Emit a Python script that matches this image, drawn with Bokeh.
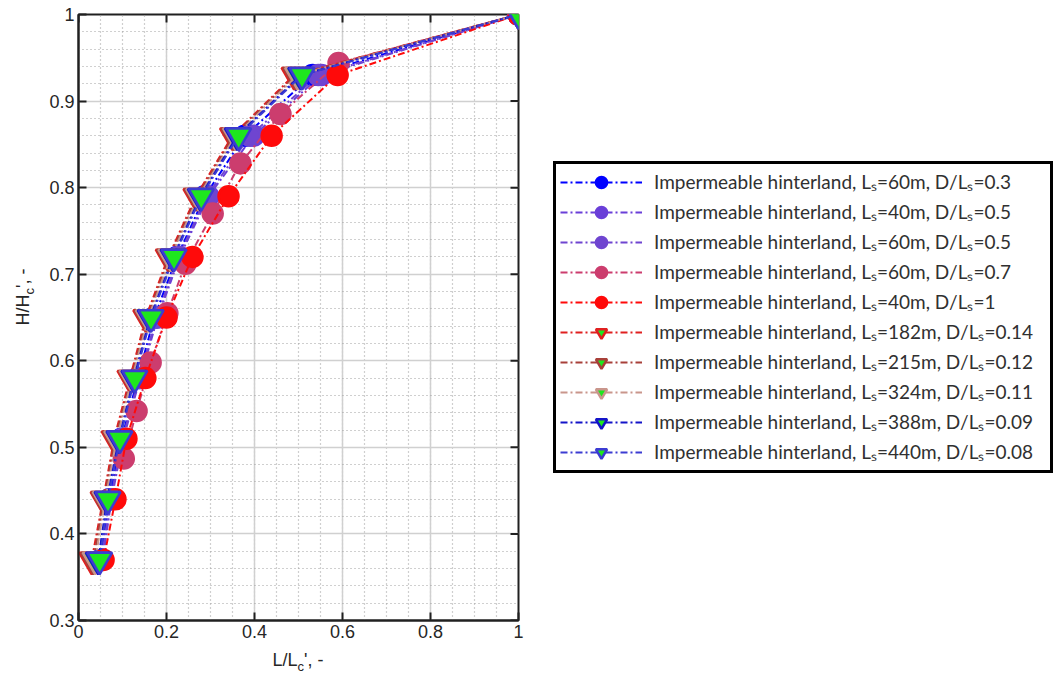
import numpy as np
from bokeh.plotting import figure
from bokeh.layouts import row, column
from bokeh.models import (Legend, LegendItem, FixedTicker,
                          CustomJSTickFormatter, Range1d, Div)
from bokeh.embed import file_html
from bokeh.resources import INLINE

# ---------------- data ----------------
y_a = [0.37, 0.44, 0.51, 0.58, 0.65, 0.72, 0.79, 0.86, 0.93, 1.0]
y_pink = [0.487, 0.542, 0.598, 0.655, 0.712, 0.770, 0.828, 0.885, 0.944, 1.0]

x_60_03 = [0.050, 0.070, 0.098, 0.135, 0.172, 0.224, 0.287, 0.378, 0.532, 1.0]
x_40_05 = [0.055, 0.075, 0.102, 0.140, 0.180, 0.230, 0.295, 0.398, 0.552, 1.0]
x_60_05 = [0.052, 0.073, 0.100, 0.138, 0.177, 0.227, 0.291, 0.390, 0.545, 1.0]
x_60_07 = [0.103, 0.132, 0.164, 0.202, 0.243, 0.305, 0.368, 0.459, 0.591, 1.0]
x_40_1 = [0.057, 0.084, 0.109, 0.152, 0.200, 0.259, 0.341, 0.439, 0.589, 1.0]

x_182 = [0.030, 0.056, 0.081, 0.117, 0.153, 0.204, 0.267, 0.350, 0.490, 1.0]
x_215 = [0.034, 0.058, 0.084, 0.120, 0.156, 0.207, 0.270, 0.353, 0.494, 1.0]
x_324 = [0.038, 0.061, 0.087, 0.122, 0.159, 0.210, 0.273, 0.357, 0.498, 1.0]
x_388 = [0.045, 0.065, 0.092, 0.126, 0.163, 0.215, 0.277, 0.361, 0.505, 1.0]
x_440 = [0.048, 0.067, 0.094, 0.128, 0.165, 0.217, 0.279, 0.364, 0.508, 1.0]

labels = [
    "Impermeable hinterland, Lₛ=60m, D/Lₛ=0.3",
    "Impermeable hinterland, Lₛ=40m, D/Lₛ=0.5",
    "Impermeable hinterland, Lₛ=60m, D/Lₛ=0.5",
    "Impermeable hinterland, Lₛ=60m, D/Lₛ=0.7",
    "Impermeable hinterland, Lₛ=40m, D/Lₛ=1",
    "Impermeable hinterland, Lₛ=182m, D/Lₛ=0.14",
    "Impermeable hinterland, Lₛ=215m, D/Lₛ=0.12",
    "Impermeable hinterland, Lₛ=324m, D/Lₛ=0.11",
    "Impermeable hinterland, Lₛ=388m, D/Lₛ=0.09",
    "Impermeable hinterland, Lₛ=440m, D/Lₛ=0.08",
]

x_ticks = [0, 0.2, 0.4, 0.6, 0.8, 1.0]
y_ticks = [0.3, 0.4, 0.5, 0.6, 0.7, 0.8, 0.9, 1.0]

GREEN = "#1ee61e"
series = [
    (x_60_03, y_a, "circle", "#0000ff", "#0000ff"),
    (x_40_05, y_a, "circle", "#6a3fd8", "#6a3fd8"),
    (x_60_05, y_a, "circle", "#6f45d0", "#6f45d0"),
    (x_60_07, y_pink, "circle", "#cc3d6e", "#cc3d6e"),
    (x_40_1, y_a, "circle", "#ff0a0a", "#ff0a0a"),
    (x_182, y_a, "inverted_triangle", "#e02020", GREEN),
    (x_215, y_a, "inverted_triangle", "#a8403a", GREEN),
    (x_324, y_a, "inverted_triangle", "#c9968c", GREEN),
    (x_388, y_a, "inverted_triangle", "#1414c8", GREEN),
    (x_440, y_a, "inverted_triangle", "#3c3cd2", GREEN),
]

# ---------------- figure ----------------
p = figure(frame_width=440, frame_height=606,
           x_range=Range1d(0, 1), y_range=Range1d(0.3, 1),
           output_backend="svg", toolbar_location=None,
           min_border_left=42, min_border_top=14, min_border_bottom=30,
           min_border_right=0, background_fill_color="white")

x_minor = list(np.round(np.arange(0, 1.0001, 0.05), 3))
y_minor = list(np.round(np.arange(0.3, 1.0001, 0.02), 3))
xt = FixedTicker(ticks=x_ticks, minor_ticks=x_minor)
yt = FixedTicker(ticks=y_ticks, minor_ticks=y_minor)
fmt = CustomJSTickFormatter(code="return tick.toFixed(1).replace(/\\.0$/, '');")

p.xaxis.ticker = xt
p.yaxis.ticker = yt
p.xaxis.formatter = fmt
p.yaxis.formatter = fmt
p.xgrid.ticker = xt
p.ygrid.ticker = yt
for g in (p.xgrid, p.ygrid):
    g.grid_line_color = "#d0d0d0"
    g.grid_line_width = 1.5
    g.minor_grid_line_color = "#a0a0a0"
    g.minor_grid_line_dash = "1 3"
    g.minor_grid_line_width = 1.2

for ax in (p.xaxis[0], p.yaxis[0]):
    ax.major_tick_in = 8
    ax.major_tick_out = 0
    ax.minor_tick_in = 0
    ax.minor_tick_out = 0
    ax.major_tick_line_width = 2
    ax.major_tick_line_color = "#202020"
    ax.axis_line_color = "#202020"
    ax.axis_line_width = 2
    ax.major_label_text_font = "Liberation Sans"
    ax.major_label_text_font_size = "18px"
    ax.major_label_text_color = "#262626"
    ax.major_label_standoff = 4

p.outline_line_color = "#202020"
p.outline_line_width = 2

# inward tick marks on the right and top edges (box on)
p.scatter([1.0] * len(y_ticks), y_ticks, marker="dash", size=16,
          line_color="#202020", line_width=2)
p.scatter(x_ticks, [1.0] * len(x_ticks), marker="dash", size=16, angle=np.pi / 2,
          line_color="#202020", line_width=2)

items = []
for (xs, ys, mk, lc, fc), lab in zip(series, labels):
    r1 = p.line(xs, ys, line_color=lc, line_width=2, line_dash="7 3 2 3")
    r2 = p.scatter(xs, ys, marker=mk, size=20 if mk == "circle" else 25,
                   line_color=lc, fill_color=fc, line_width=2.5)
    items.append(LegendItem(label=lab, renderers=[r1, r2]))

legend = Legend(items=items, location=(35, 147), margin=18,
                border_line_color="black", border_line_width=3,
                border_line_alpha=1,
                label_text_font="Lato", label_text_font_size="19px",
                label_text_color="#303030", label_width=392, label_height=24,
                glyph_width=82, glyph_height=28, spacing=2,
                padding=4, label_standoff=12, background_fill_alpha=1)
p.add_layout(legend, "right")

# axis titles as HTML text (with subscripts)
ydiv = Div(width=36, height=650, margin=0, text=(
    '<div style="position:absolute; left:25px; top:297px; '
    'transform:translate(-50%,-50%) rotate(-90deg); white-space:nowrap; '
    "font-family:'Liberation Sans'; font-size:18px; color:#262626;\">"
    "H/H<sub style=\"font-size:13px\">c</sub>', -</div>"))
xdiv = Div(width=500, height=28, margin=0, text=(
    '<div style="position:absolute; left:262px; top:12px; '
    'transform:translate(-50%,-50%); white-space:nowrap; '
    "font-family:'Liberation Sans'; font-size:18px; color:#262626;\">"
    "L/L<sub style=\"font-size:13px\">c</sub>', -</div>"))

layout = row(ydiv, column(p, xdiv))

open("out.html", "w").write(file_html(layout, INLINE))
